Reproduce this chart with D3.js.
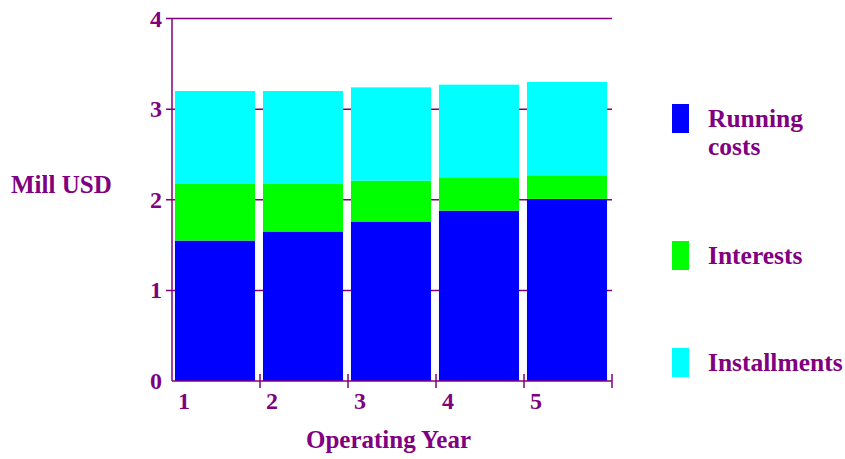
<!DOCTYPE html>
<html>
<head>
<meta charset="utf-8">
<script src="https://cdn.jsdelivr.net/npm/d3@7"></script>
<style>
  body { margin: 0; background: #fff; }
  text { font-family: "Liberation Serif", "Times New Roman", serif; font-weight: bold; fill: #800080; }
</style>
</head>
<body>
<div class="bigboard"></div>
<script>
var years = [1, 2, 3, 4, 5];
var runningCosts = [1.55, 1.65, 1.76, 1.88, 2.01];
var interests = [0.63, 0.53, 0.45, 0.36, 0.26];
var installments = [1.02, 1.02, 1.03, 1.03, 1.03];
var yTicks = [0, 1, 2, 3, 4];
var seriesNames = [["Running", "costs"], ["Interests"], ["Installments"]];
var seriesColors = ["#0000ff", "#00ff00", "#00ffff"];

var purple = "#800080";

var svg = d3.select('.bigboard').append('svg')
  .attr('width', 845)
  .attr('height', 459)

var y = d3.scaleLinear().domain([0, 4]).range([381, 18.5])
var x = d3.scaleBand().domain(years).range([172, 612])
  .paddingInner(0.09).paddingOuter(0.045)
var xb = d3.scaleLinear().domain([0, years.length]).range([172, 612])

// gridlines behind the bars
svg.selectAll('.grid')
  .data(yTicks.slice(1)).enter().append('line')
  .attr('class', 'grid')
  .attr('x1', 166)
  .attr('x2', 612)
  .attr('y1', function(d){ return y(d) })
  .attr('y2', function(d){ return y(d) })
  .attr('stroke', purple)
  .attr('stroke-width', 1.5)

var table = years.map(function(d, i){
  return { year: d, run: runningCosts[i], int: interests[i], inst: installments[i] }
})
var stack = d3.stack().keys(['run', 'int', 'inst'])(table)

svg.selectAll('.layer')
  .data(stack).enter().append('g')
  .attr('class', 'layer')
  .attr('fill', function(d, i){ return seriesColors[i] })
  .selectAll('rect')
  .data(function(d){ return d }).enter().append('rect')
  .attr('x', function(d){ return x(d.data.year) - 1 })
  .attr('width', x.bandwidth())
  .attr('y', function(d){ return y(d[1]) })
  .attr('height', function(d){ return y(d[0]) - y(d[1]) })

// axes
svg.append('line')
  .attr('x1', 172).attr('x2', 172)
  .attr('y1', y(4)).attr('y2', y(0))
  .attr('stroke', purple).attr('stroke-width', 1.5)

svg.append('line')
  .attr('x1', 172).attr('x2', 612)
  .attr('y1', y(0)).attr('y2', y(0))
  .attr('stroke', purple).attr('stroke-width', 1.5)

svg.selectAll('.xtick')
  .data(d3.range(1, years.length + 1)).enter().append('line')
  .attr('class', 'xtick')
  .attr('x1', function(d){ return xb(d) })
  .attr('x2', function(d){ return xb(d) })
  .attr('y1', y(0) - 7)
  .attr('y2', y(0) + 7)
  .attr('stroke', purple)
  .attr('stroke-width', 1.5)

svg.selectAll('.ylabel')
  .data(yTicks).enter().append('text')
  .attr('class', 'ylabel')
  .attr('x', 162)
  .attr('y', function(d){ return y(d) + 8 })
  .attr('text-anchor', 'end')
  .attr('font-size', '24px')
  .text(function(d){ return d })

svg.selectAll('.xlabel')
  .data(years).enter().append('text')
  .attr('class', 'xlabel')
  .attr('x', function(d, i){ return xb(i) + 12 })
  .attr('y', 408.5)
  .attr('text-anchor', 'middle')
  .attr('font-size', '24px')
  .text(function(d){ return d })

svg.append('text')
  .attr('x', 11).attr('y', 193)
  .attr('font-size', '25px')
  .text('Mill USD')

svg.append('text')
  .attr('x', 306).attr('y', 448)
  .attr('font-size', '25px')
  .text('Operating Year')

// legend
var legendY = [104, 241, 348];
var legend = svg.selectAll('.legend')
  .data(seriesNames).enter().append('g')
  .attr('class', 'legend')
  .attr('transform', function(d, i){ return 'translate(672,' + legendY[i] + ')' })

legend.append('rect')
  .attr('width', 17)
  .attr('height', 29)
  .attr('fill', function(d, i){ return seriesColors[i] })

legend.append('text')
  .attr('x', 36)
  .attr('y', 23)
  .attr('font-size', '25.5px')
  .selectAll('tspan')
  .data(function(d){ return d }).enter().append('tspan')
  .attr('x', 36)
  .attr('dy', function(d, i){ return i ? 28 : 0 })
  .text(function(d){ return d })
</script>
</body>
</html>
